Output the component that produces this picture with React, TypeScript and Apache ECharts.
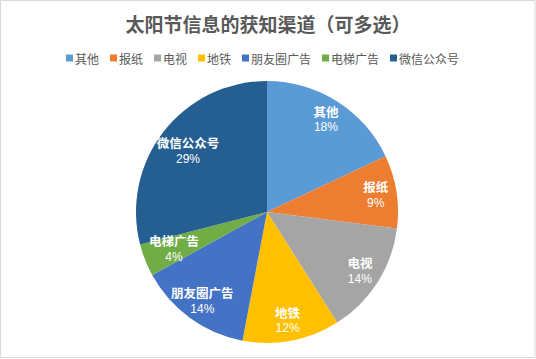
import React, { useEffect, useRef } from "react";
import * as echarts from "echarts";

const titleText = "太阳节信息的获知渠道（可多选）";
const categories = ["其他", "报纸", "电视", "地铁", "朋友圈广告", "电梯广告", "微信公众号"];
const values = [18, 9, 14, 12, 14, 4, 29];
const colors = ["#5B9BD5", "#ED7D31", "#A5A5A5", "#FFC000", "#4472C4", "#70AD47", "#255E91"];

const FONT = "'Noto Sans CJK SC', 'Noto Sans', sans-serif";

// label rings (Excel places some labels nearer the centre)
const LABEL_RINGS: { radius: number[]; members: string[] }[] = [
  { radius: [83, 131], members: ["其他", "报纸", "电视", "地铁", "朋友圈广告"] },
  { radius: [63, 131], members: ["电梯广告", "微信公众号"] },
];

export default function App() {
  const ref = useRef<HTMLDivElement>(null);
  useEffect(() => {
    if (!ref.current) return;
    const chart = echarts.init(ref.current, undefined, { renderer: "svg" });
    const data = categories.map((name, i) => ({
      name,
      value: values[i],
      itemStyle: { color: colors[i] },
    }));
    const total = values.reduce((a, b) => a + b, 0);
    const labelCfg = {
      show: true,
      position: "inside",
      opacity: 1,
      formatter: (p: any) => `{n|${p.name}}\n{v|${Math.round((p.value / total) * 100)}%}`,
      rich: {
        n: { fontSize: 12.5, fontWeight: "bold", color: "#ffffff", fontFamily: FONT, lineHeight: 16 },
        v: { fontSize: 12, color: "#ffffff", fontFamily: "'Liberation Sans', Arial, sans-serif", lineHeight: 16 },
      },
    };
    const overlay = (ring: { radius: number[]; members: string[] }) => ({
      type: "pie",
      center: [267, 212],
      radius: ring.radius,
      startAngle: 90,
      clockwise: true,
      silent: true,
      legendHoverLink: false,
      itemStyle: { opacity: 0 },
      labelLine: { show: false },
      emphasis: { disabled: true },
      label: labelCfg,
      data: categories.map((name, i) => ({
        name,
        value: values[i],
        label: { show: ring.members.includes(name), opacity: 1 },
      })),
    });
    chart.setOption({
      animation: false,
      textStyle: { fontFamily: FONT },
      title: {
        text: titleText,
        left: "center",
        top: 9,
        textStyle: { fontSize: 19, fontWeight: "bold", color: "#595959", fontFamily: FONT },
      },
      legend: {
        data: categories,
        top: 47,
        left: 61,
        itemWidth: 7,
        itemHeight: 7,
        itemGap: 11,
        icon: "rect",
        textStyle: { fontSize: 12, color: "#595959", fontFamily: FONT, padding: [0, 0, 0, -3] },
      },
      graphic: [
        {
          type: "rect",
          shape: { x: 0.5, y: 0.5, width: 534.5, height: 357 },
          style: { fill: "none", stroke: "#d9d9d9", lineWidth: 1 },
          silent: true,
        },
      ],
      series: [
        {
          type: "pie",
          center: [267, 212],
          radius: [0, 131],
          startAngle: 90,
          clockwise: true,
          label: { show: false },
          labelLine: { show: false },
          emphasis: { disabled: true },
          data,
        },
        ...LABEL_RINGS.map(overlay),
      ],
    });
    return () => chart.dispose();
  }, []);
  return (
    <div
      ref={ref}
      style={{ position: "fixed", left: 0, top: 0, width: 536, height: 359, background: "#fff" }}
    />
  );
}
